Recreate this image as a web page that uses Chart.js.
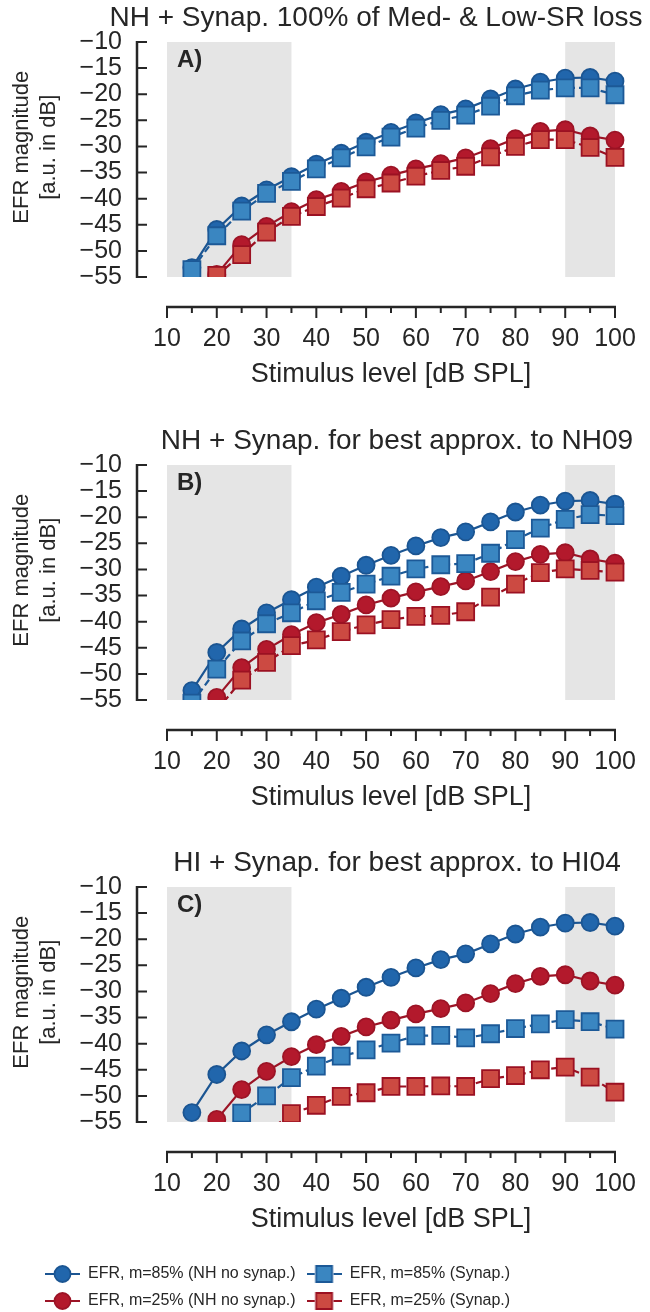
<!DOCTYPE html>
<html>
<head>
<meta charset="utf-8">
<script src="https://cdn.jsdelivr.net/npm/chart.js@4.4.0/dist/chart.umd.min.js"></script>
<style>
  body { margin: 0; background: #fff; }
  #page { position: relative; width: 650px; height: 1312px; overflow: hidden; }
  #page canvas { position: absolute; }
</style>
</head>
<body>
<div id="page">
  <canvas id="chartA" width="650" height="410" style="left:0;top:0"></canvas>
  <canvas id="chartB" width="650" height="410" style="left:0;top:423px"></canvas>
  <canvas id="chartC" width="650" height="410" style="left:0;top:845px"></canvas>
  <canvas id="legend" width="616" height="80" style="left:34px;top:1255px"></canvas>
</div>
<script>
// stimulus levels (dB SPL)
var levels = [15, 20, 25, 30, 35, 40, 45, 50, 55, 60, 65, 70, 75, 80, 85, 90, 95, 100];

// EFR magnitude, normal hearing without synaptopathy (same in every panel)
var efrNH85 = [-53.2, -45.9, -41.4, -38.3, -35.8, -33.4, -31.3, -29.2, -27.3, -25.5, -23.9, -22.8, -20.9, -19.0, -17.7, -16.9, -16.8, -17.5];
var efrNH25 = [null, -54.5, -48.8, -45.3, -42.5, -40.2, -38.6, -36.8, -35.5, -34.3, -33.3, -32.2, -30.4, -28.5, -27.1, -26.8, -28.0, -28.8];

// EFR magnitude with synaptopathy, per panel
var efrSynA85 = [-53.6, -47.1, -42.4, -39.0, -36.7, -34.3, -32.2, -30.1, -28.2, -26.5, -25.0, -24.0, -22.3, -20.3, -19.2, -18.8, -18.8, -20.1];
var efrSynA25 = [null, -54.7, -50.7, -46.4, -43.4, -41.5, -39.9, -38.1, -37.0, -35.7, -34.6, -33.8, -32.0, -30.0, -28.7, -28.7, -30.2, -32.1];
var efrSynB85 = [-55.6, -49.1, -43.7, -40.4, -38.3, -36.0, -34.4, -32.8, -31.3, -29.9, -29.1, -28.9, -26.9, -24.3, -22.1, -20.4, -19.5, -19.7];
var efrSynB25 = [null, -57.0, -51.2, -47.8, -44.6, -43.5, -41.9, -40.6, -39.6, -39.0, -38.8, -38.1, -35.3, -32.8, -30.6, -29.9, -30.2, -30.5];
var efrSynC85 = [null, null, -53.3, -50.0, -46.5, -44.3, -42.4, -41.2, -39.9, -38.5, -38.4, -38.9, -38.1, -37.1, -36.2, -35.4, -35.8, -37.2];
var efrSynC25 = [null, null, null, -57.0, -53.4, -51.8, -50.1, -49.4, -48.2, -48.2, -48.1, -48.2, -46.7, -46.1, -45.0, -44.5, -46.4, -49.3];

var panelTitles = ['NH + Synap. 100% of Med- & Low-SR loss', 'NH + Synap. for best approx. to NH09', 'HI + Synap. for best approx. to HI04'];
var panelLetters = ['A)', 'B)', 'C)'];
var seriesLabels = ['EFR, m=85% (NH no synap.)', 'EFR, m=85% (Synap.)', 'EFR, m=25% (NH no synap.)', 'EFR, m=25% (Synap.)'];
var xRange = [10, 100], xStep = 10;
var yRange = [-55, -10], yStep = 5;
var shadedRanges = [[10, 35], [90, 100]];
var xTitle = 'Stimulus level [dB SPL]';
var yTitle = ['\u00a0\u00a0\u00a0\u00a0EFR magnitude', '\u00a0\u00a0\u00a0\u00a0[a.u. in dB]'];

var ink = '#262626';
var fontFamily = '"Liberation Sans", Arial, sans-serif';
var looks = [
  {line: '#1b5592', fill: '#2166ac', shape: 'circle', r: 8.5, dash: []},
  {line: '#1c5997', fill: '#3a86c1', shape: 'rect', r: 12, dash: [7, 4]},
  {line: '#9c1426', fill: '#b3192c', shape: 'circle', r: 8.5, dash: []},
  {line: '#9b1122', fill: '#cc4a42', shape: 'rect', r: 12, dash: [7, 4]}
];

Chart.defaults.font.family = fontFamily;
Chart.defaults.color = ink;

function dataset(k, vals) {
  var s = looks[k];
  return {
    label: seriesLabels[k],
    data: levels.map(function(x, i) { return {x: x, y: vals[i]}; }),
    borderColor: s.line,
    borderWidth: 2.2,
    borderDash: s.dash,
    backgroundColor: s.fill,
    pointStyle: s.shape,
    pointRadius: s.r,
    pointBackgroundColor: s.fill,
    pointBorderColor: s.line,
    pointBorderWidth: 1.8,
    tension: 0,
    order: s.shape == 'rect' ? 0 : 1,
    clip: {left: 20, top: 20, right: 20, bottom: 0}
  };
}

// grey bands behind the data
var shade = {
  id: 'shade',
  beforeDatasetsDraw: function(chart) {
    var ctx = chart.ctx, a = chart.chartArea, x = chart.scales.x;
    ctx.save();
    ctx.fillStyle = '#e5e5e5';
    shadedRanges.forEach(function(r) {
      var x0 = x.getPixelForValue(r[0]), x1 = x.getPixelForValue(r[1]);
      ctx.fillRect(x0, a.top, x1 - x0, a.bottom - a.top);
    });
    ctx.restore();
  }
};

// offset axis lines with ticks (seaborn despine look)
var spines = {
  id: 'spines',
  afterDraw: function(chart) {
    var ctx = chart.ctx, a = chart.chartArea, x = chart.scales.x, y = chart.scales.y;
    var sx = a.left - 30, sy = a.bottom + 30;
    ctx.save();
    ctx.strokeStyle = ink;
    ctx.lineWidth = 2.5;
    ctx.beginPath();
    ctx.moveTo(sx, y.getPixelForValue(yRange[1]) - 1);
    ctx.lineTo(sx, y.getPixelForValue(yRange[0]) + 1);
    ctx.moveTo(x.getPixelForValue(xRange[0]) - 1, sy);
    ctx.lineTo(x.getPixelForValue(xRange[1]) + 1, sy);
    ctx.stroke();
    ctx.lineWidth = 2;
    ctx.beginPath();
    y.ticks.forEach(function(t) {
      var py = y.getPixelForValue(t.value);
      ctx.moveTo(sx, py);
      ctx.lineTo(sx + 10, py);
    });
    x.ticks.forEach(function(t, i) {
      var px = x.getPixelForValue(t.value);
      ctx.moveTo(px, sy);
      ctx.lineTo(px, sy + 11);
      if (i < x.ticks.length - 1) {
        var pm = x.getPixelForValue((t.value + x.ticks[i + 1].value) / 2);
        ctx.moveTo(pm, sy);
        ctx.lineTo(pm, sy + 6);
      }
    });
    ctx.stroke();
    ctx.restore();
  }
};

// panel title (above the plot) and panel letter (inside, top left)
var heading = {
  id: 'heading',
  afterDraw: function(chart, args, opts) {
    var ctx = chart.ctx, a = chart.chartArea;
    ctx.save();
    ctx.fillStyle = ink;
    ctx.textBaseline = 'middle';
    ctx.textAlign = 'center';
    ctx.font = '28px ' + fontFamily;
    ctx.fillText(opts.title, (a.left + a.right) / 2 + opts.shift, 18);
    ctx.textAlign = 'left';
    ctx.font = 'bold 24px ' + fontFamily;
    ctx.fillText(opts.letter, a.left + 10, a.top + 18);
    ctx.restore();
  }
};

function panel(id, n, syn85, syn25) {
  return new Chart(document.getElementById(id), {
    type: 'line',
    data: {
      datasets: [dataset(0, efrNH85), dataset(1, syn85), dataset(2, efrNH25), dataset(3, syn25)]
    },
    options: {
      responsive: false,
      animation: false,
      events: [],
      layout: {padding: {top: 42, right: 35}},
      plugins: {
        legend: {display: false},
        tooltip: {enabled: false},
        heading: {title: panelTitles[n], letter: panelLetters[n], shift: n == 0 ? -15 : 6}
      },
      scales: {
        x: {
          type: 'linear', min: xRange[0], max: xRange[1],
          ticks: {stepSize: xStep, font: {size: 25}, padding: 0, maxRotation: 0, autoSkip: false},
          // tick marks are drawn by the spines plugin; tickLength only pushes the labels down
          grid: {display: false, drawTicks: true, tickLength: 47},
          border: {display: false},
          title: {display: true, text: xTitle, font: {size: 27}, padding: {top: 0, bottom: 19}},
          afterFit: function(s) { s.height = 133; }
        },
        y: {
          type: 'linear', min: yRange[0], max: yRange[1],
          ticks: {stepSize: yStep, font: {size: 25}, padding: 0, autoSkip: false,
            callback: function(v) { return String(v).replace('-', '\u2212'); }},
          grid: {display: false, drawTicks: true, tickLength: 45},
          border: {display: false},
          title: {display: true, text: yTitle, font: {size: 22}, padding: {top: 9}},
          afterFit: function(s) { s.width = 167; }
        }
      }
    },
    plugins: [shade, spines, heading]
  });
}

panel('chartA', 0, efrSynA85, efrSynA25);
panel('chartB', 1, efrSynB85, efrSynB25);
panel('chartC', 2, efrSynC85, efrSynC25);

// legend: line + marker icons
function legendIcon(k) {
  var s = looks[k];
  var c = document.createElement('canvas');
  c.width = 35; c.height = 20;
  var g = c.getContext('2d');
  g.strokeStyle = s.line;
  g.lineWidth = 2.2;
  g.beginPath();
  if (s.shape == 'rect') {
    g.moveTo(0, 10); g.lineTo(8, 10);
    g.moveTo(27, 10); g.lineTo(35, 10);
  } else {
    g.moveTo(0, 10); g.lineTo(35, 10);
  }
  g.stroke();
  g.fillStyle = s.fill;
  g.lineWidth = 1.8;
  g.beginPath();
  if (s.shape == 'rect') g.rect(9.5, 2, 16, 16);
  else g.arc(17.5, 10, 8, 0, Math.PI * 2);
  g.fill();
  g.stroke();
  return c;
}

new Chart(document.getElementById('legend'), {
  type: 'line',
  data: {
    datasets: [0, 1, 2, 3].map(function(k) {
      return {label: seriesLabels[k], data: [], borderColor: looks[k].line, backgroundColor: looks[k].fill};
    })
  },
  options: {
    responsive: false,
    animation: false,
    events: [],
    layout: {padding: 0},
    scales: {x: {display: false}, y: {display: false}},
    plugins: {
      tooltip: {enabled: false},
      legend: {
        position: 'top',
        align: 'start',
        maxHeight: 200,
        labels: {
          usePointStyle: true,
          pointStyleWidth: 35,
          padding: 11,
          color: ink,
          font: {size: 16},
          generateLabels: function(chart) {
            return Chart.defaults.plugins.legend.labels.generateLabels(chart).map(function(item, i) {
              item.pointStyle = legendIcon(i);
              return item;
            });
          }
        }
      }
    }
  }
});
</script>
</body>
</html>
